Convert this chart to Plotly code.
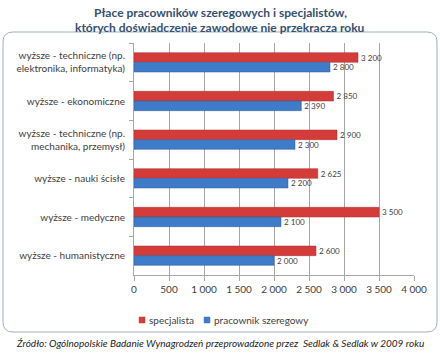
import plotly.graph_objects as go

categories = [
    "wyższe - techniczne (np.<br>elektronika, informatyka)",
    "wyższe - ekonomiczne",
    "wyższe - techniczne (np.<br>mechanika, przemysł)",
    "wyższe - nauki ścisłe",
    "wyższe - medyczne",
    "wyższe - humanistyczne",
]
specjalista = [3200, 2850, 2900, 2625, 3500, 2600]
pracownik = [2800, 2390, 2300, 2200, 2100, 2000]
x_ticks = [0, 500, 1000, 1500, 2000, 2500, 3000, 3500, 4000]
series_names = ["specjalista", "pracownik szeregowy"]
series_colors = ["#D43C3A", "#3E7BC8"]

W, H = 440, 353
L, R, T, B = 134, 26, 43, 78
PW, PH = W - L - R, H - T - B

def px(xp):
    return (xp - L) / PW

def py(yp):
    return (H - B - yp) / PH

FONT = "Lato"
TXT = "#404040"

fig = go.Figure()
for vals, name, col, lc in [(specjalista, series_names[0], series_colors[0], "#A92C2A"),
                            (pracownik, series_names[1], series_colors[1], "#2C5E9E")]:
    fig.add_trace(go.Bar(
        y=categories, x=vals, orientation="h", name=name,
        marker=dict(color=col, line=dict(color=lc, width=0.5)),
        texttemplate="%{x:,d}", textposition="outside",
        textfont=dict(size=10, color=TXT, family=FONT), cliponaxis=False,
        showlegend=False,
    ))

# rounded border box
x0, x1, y0, y1, r = 3, 437, 32, 332, 10
path = (
    f"M {px(x0 + r)},{py(y0)} L {px(x1 - r)},{py(y0)} "
    f"Q {px(x1)},{py(y0)} {px(x1)},{py(y0 + r)} "
    f"L {px(x1)},{py(y1 - r)} Q {px(x1)},{py(y1)} {px(x1 - r)},{py(y1)} "
    f"L {px(x0 + r)},{py(y1)} Q {px(x0)},{py(y1)} {px(x0)},{py(y1 - r)} "
    f"L {px(x0)},{py(y0 + r)} Q {px(x0)},{py(y0)} {px(x0 + r)},{py(y0)} Z"
)
shapes = [dict(type="path", path=path, xref="paper", yref="paper",
               line=dict(color="#9FB0C4", width=1), layer="below")]

annotations = [
    dict(text="<b>Płace pracowników szeregowych i specjalistów,</b>", x=px(220), y=py(12),
         xref="paper", yref="paper", xanchor="center", yanchor="middle", showarrow=False,
         font=dict(size=12, color="#34506F", family=FONT)),
    dict(text="<b>których doświadczenie zawodowe nie przekracza roku</b>", x=px(220), y=py(27),
         xref="paper", yref="paper", xanchor="center", yanchor="middle", showarrow=False,
         font=dict(size=12, color="#34506F", family=FONT)),
    dict(text="<i>Źródło: Ogólnopolskie Badanie Wynagrodzeń przeprowadzone przez  Sedlak &amp; Sedlak w 2009 roku</i>",
         x=px(220), y=py(343), xref="paper", yref="paper", xanchor="center", yanchor="middle",
         showarrow=False, font=dict(size=10, color="#222222", family=FONT)),
]

# manual compact legend
legend_x = [139, 204]
for lx, name, col in zip(legend_x, series_names, series_colors):
    shapes.append(dict(type="rect", xref="paper", yref="paper",
                       x0=px(lx), x1=px(lx + 6), y0=py(317), y1=py(323),
                       fillcolor=col, line=dict(color=col, width=0.5)))
    annotations.append(dict(text=name, x=px(lx + 8), y=py(320), xref="paper", yref="paper",
                            xanchor="left", yanchor="middle", showarrow=False,
                            font=dict(size=10, color=TXT, family=FONT)))

fig.update_layout(
    width=W, height=H,
    margin=dict(l=L, r=R, t=T, b=B),
    paper_bgcolor="white", plot_bgcolor="white",
    separators=", ",
    barmode="group", bargap=0.5, bargroupgap=0,
    font=dict(family=FONT, size=10, color=TXT),
    showlegend=False,
    shapes=shapes,
    annotations=annotations,
)
fig.update_xaxes(
    range=[0, 4000], tickvals=x_ticks, tickformat=",d",
    showgrid=True, gridcolor="#A6A6A6", gridwidth=1,
    showline=True, linecolor="#A6A6A6", linewidth=1,
    ticks="outside", ticklen=5, tickcolor="#A6A6A6",
    tickfont=dict(size=10, color=TXT, family=FONT), zeroline=False,
)
fig.update_yaxes(
    autorange="reversed", showgrid=False,
    showline=True, linecolor="#A6A6A6", linewidth=1,
    ticks="outside", ticklen=4, tickcolor="#A6A6A6", tickson="boundaries",
    ticklabelstandoff=6,
    tickfont=dict(size=10, color=TXT, family=FONT),
)

fig.write_html("out.html")
